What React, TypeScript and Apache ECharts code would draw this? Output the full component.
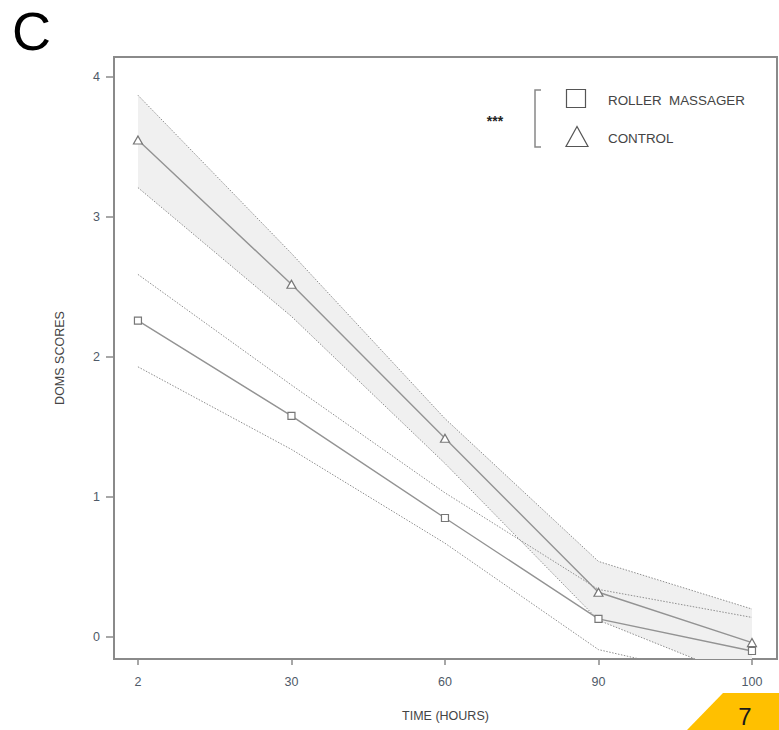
import React, { useEffect, useRef } from "react";
import * as echarts from "echarts";

// Time points (equally spaced on the x axis)
const timeLabels = ["2", "30", "60", "90", "100"];
const yTicks = [0, 1, 2, 3, 4];

// DOMS scores – control group (mean and confidence band)
const controlMean = [3.55, 2.52, 1.42, 0.32, -0.04];
const controlUpper = [3.87, 2.74, 1.56, 0.54, 0.2];
const controlLower = [3.21, 2.29, 1.24, 0.12, -0.32];

// DOMS scores – roller massager group (mean and confidence band)
const rollerMean = [2.26, 1.58, 0.85, 0.13, -0.1];
const rollerUpper = [2.59, 1.8, 1.03, 0.34, 0.14];
const rollerLower = [1.93, 1.34, 0.67, -0.09, -0.34];

const LINE = "#8a8a8a";
const LABEL = "#4f5a68";
const FONT = "'Liberation Sans', Arial, sans-serif";

const pairs = (arr: number[]) => arr.map((v, i) => [i, v]);

export default function App() {
  const ref = useRef<HTMLDivElement>(null);

  useEffect(() => {
    if (!ref.current) return;
    const chart = echarts.init(ref.current, null, { renderer: "svg" });

    const dotted = {
      color: "#8e8e8e",
      width: 1,
      type: [1.5, 1.5] as number[],
    };

    chart.setOption({
      animation: false,
      textStyle: { fontFamily: FONT },
      grid: {
        left: 114,
        top: 57,
        right: 2,
        bottom: 71,
        show: true,
        borderColor: LINE,
        borderWidth: 2,
        backgroundColor: "transparent",
      },
      xAxis: {
        type: "value",
        min: -0.156,
        max: 4.163,
        name: "TIME (HOURS)",
        nameLocation: "middle",
        nameGap: 50,
        nameTextStyle: { color: "#444", fontSize: 12.5, fontFamily: FONT },
        axisLine: { show: false, onZero: false },
        splitLine: { show: false },
        axisTick: {
          show: true,
          length: 6,
          lineStyle: { color: LINE, width: 1.5 },
          customValues: [0, 1, 2, 3, 4],
        },
        axisLabel: {
          customValues: [0, 1, 2, 3, 4],
          formatter: (v: number) => timeLabels[Math.round(v)] ?? "",
          color: LABEL,
          fontSize: 12.5,
          margin: 16,
          fontFamily: FONT,
        },
      },
      yAxis: {
        type: "value",
        min: -0.157,
        max: 4.143,
        name: "DOMS SCORES",
        nameLocation: "middle",
        nameGap: 48,
        nameTextStyle: { color: "#444", fontSize: 12.5, fontFamily: FONT },
        axisLine: { show: false, onZero: false },
        splitLine: { show: false },
        axisTick: {
          show: true,
          length: 8,
          lineStyle: { color: LINE, width: 1.5 },
          customValues: yTicks,
        },
        axisLabel: {
          customValues: yTicks,
          formatter: (v: number) => String(v),
          color: LABEL,
          fontSize: 12.5,
          margin: 14,
          fontFamily: FONT,
        },
      },
      series: [
        // Shaded confidence band of the control group
        {
          name: "controlBand",
          type: "custom",
          clip: true,
          silent: true,
          z: 1,
          data: [[0, 0]],
          renderItem: (_params: any, api: any) => {
            const top = controlUpper.map((v, i) => api.coord([i, v]));
            const bottom = controlLower
              .map((v, i) => api.coord([i, v]))
              .reverse();
            return {
              type: "polygon",
              shape: { points: top.concat(bottom) },
              style: { fill: "#f0f0f0", stroke: "none" },
            };
          },
        },
        // Dotted confidence bounds
        ...[controlUpper, controlLower, rollerUpper, rollerLower].map((arr, k) => ({
          name: "bound" + k,
          type: "line",
          data: pairs(arr),
          symbol: "none",
          lineStyle: dotted,
          z: 2,
        })),
        // Means
        {
          name: "CONTROL",
          type: "line",
          data: pairs(controlMean),
          symbol: "triangle",
          symbolSize: [9, 8],
          itemStyle: { color: "#ffffff", borderColor: "#777", borderWidth: 1.2 },
          lineStyle: { color: "#939393", width: 1.4 },
          z: 3,
        },
        {
          name: "ROLLER MASSAGER",
          type: "line",
          data: pairs(rollerMean),
          symbol: "rect",
          symbolSize: [7, 7],
          itemStyle: { color: "#ffffff", borderColor: "#777", borderWidth: 1.2 },
          lineStyle: { color: "#939393", width: 1.4 },
          z: 3,
        },
      ],
      graphic: [
        // Panel letter
        {
          type: "text",
          left: 12,
          top: 4,
          style: { text: "C", fontSize: 54, fontFamily: FONT, fill: "#000" },
        },
        // Legend
        {
          type: "text",
          x: 495,
          y: 121,
          style: {
            text: "***",
            fontSize: 14,
            fontWeight: "bold",
            fontFamily: FONT,
            fill: "#222",
            align: "center",
            verticalAlign: "middle",
          },
        },
        {
          type: "polyline",
          shape: { points: [[541, 90], [535, 90], [535, 147], [541, 147]] },
          style: { stroke: "#888", lineWidth: 1.5, fill: "none" },
        },
        {
          type: "rect",
          shape: { x: 566.5, y: 89.5, width: 19, height: 18 },
          style: { stroke: "#555", lineWidth: 1.2, fill: "none" },
        },
        {
          type: "polygon",
          shape: { points: [[577, 126.5], [566, 146.5], [588, 146.5]] },
          style: { stroke: "#555", lineWidth: 1.2, fill: "none" },
        },
        {
          type: "text",
          x: 608,
          y: 100,
          style: {
            text: "ROLLER  MASSAGER",
            fontSize: 13.4,
            fontFamily: FONT,
            fill: "#444",
            verticalAlign: "middle",
          },
        },
        {
          type: "text",
          x: 608,
          y: 138,
          style: {
            text: "CONTROL",
            fontSize: 13.4,
            fontFamily: FONT,
            fill: "#444",
            verticalAlign: "middle",
          },
        },
        // Page badge in the corner
        {
          type: "polygon",
          shape: { points: [[723, 693], [779, 693], [779, 730], [687, 730]] },
          style: { fill: "#ffc000" },
        },
        {
          type: "text",
          x: 745,
          y: 728,
          style: {
            text: "7",
            fontSize: 24,
            fontFamily: FONT,
            fill: "#1a1a1a",
            align: "center",
            verticalAlign: "bottom",
          },
        },
      ],
    });

    return () => chart.dispose();
  }, []);

  return (
    <div
      ref={ref}
      style={{ position: "fixed", left: 0, top: 0, width: 779, height: 730, background: "#fff" }}
    />
  );
}
